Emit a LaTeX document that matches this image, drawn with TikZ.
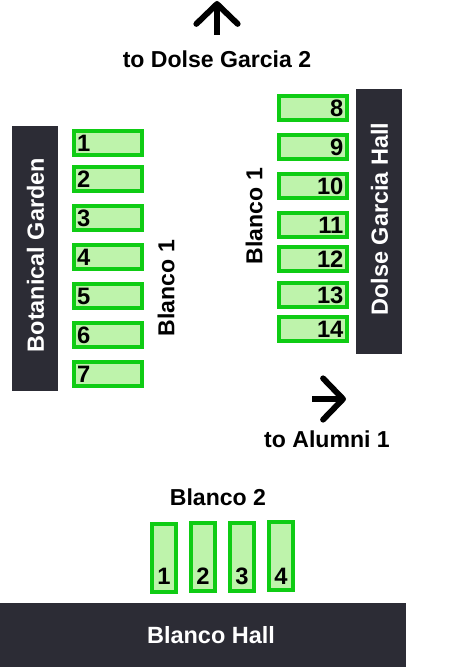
\documentclass[tikz,border=0pt]{standalone}
\usepackage{fontspec}
\setmainfont{Liberation Sans}
\usetikzlibrary{arrows.meta}
\definecolor{hallgray}{HTML}{2C2C35}
\definecolor{stallgreen}{HTML}{0FCC14}
\definecolor{stallfill}{HTML}{BEF3AB}
\tikzset{
    txt/.style={font=\fontsize{17.3}{20}\selectfont\bfseries, inner sep=0pt, text height=12.5pt, text depth=0pt},
    hall/.style={fill=hallgray, inner sep=0pt},
    halltxt/.style={txt, text=white, font=\fontsize{17.6}{20}\selectfont\bfseries},
    stall/.style={draw=stallgreen, fill=stallfill, line width=3pt, inner sep=0pt, outer sep=0pt, minimum width=51pt, minimum height=18pt},
    stallup/.style={stall, minimum width=18pt, minimum height=51pt},
    num/.style={txt, font=\fontsize{17.8}{20}\selectfont\bfseries},
    wayarrow/.style={line width=4.4pt, -{Straight Barb[length=15pt, width=31pt, round]}}
}
\begin{document}
\begin{tikzpicture}[x=0.75pt, y=-0.75pt]
        \useasboundingbox (0,0) rectangle (454,667);
        \node[hall, minimum width=34.5pt, minimum height=198.75pt] (botanical) at (35,258.5) {};
        \node[hall, minimum width=34.5pt, minimum height=198.75pt] (dolse) at (379,221.5) {};
        \node[hall, minimum width=304.5pt, minimum height=48pt] (blancohall) at (203,635) {};
        \node[halltxt, rotate=90] (botanicaltxt) at (35.5,255) {Botanical Garden};
        \node[halltxt, rotate=90] (dolsetxt) at (379.5,219) {Dolse Garcia Hall};
        \node[halltxt] (blancohalltxt) at (211,635) {Blanco Hall};

        \node[stall, label={[num, anchor=west, xshift=2.2pt]west:1}] (s1) at (108,143) {};
        \node[stall, label={[num, anchor=west, xshift=2.2pt]west:2}] (s2) at (108,179) {};
        \node[stall, label={[num, anchor=west, xshift=2.2pt]west:3}] (s3) at (108,218) {};
        \node[stall, label={[num, anchor=west, xshift=2.2pt]west:4}] (s4) at (108,257) {};
        \node[stall, label={[num, anchor=west, xshift=2.2pt]west:5}] (s5) at (108,296) {};
        \node[stall, label={[num, anchor=west, xshift=2.2pt]west:6}] (s6) at (108,335) {};
        \node[stall, label={[num, anchor=west, xshift=2.2pt]west:7}] (s7) at (108,374) {};

        \node[stall, label={[num, anchor=east, xshift=-2.5pt]east:8}] (s8) at (313,108) {};
        \node[stall, label={[num, anchor=east, xshift=-2.5pt]east:9}] (s9) at (313,147) {};
        \node[stall, label={[num, anchor=east, xshift=-2.5pt]east:10}] (s10) at (313,186) {};
        \node[stall, label={[num, anchor=east, xshift=-2.5pt]east:11}] (s11) at (313,225) {};
        \node[stall, label={[num, anchor=east, xshift=-2.5pt]east:12}] (s12) at (313,259) {};
        \node[stall, label={[num, anchor=east, xshift=-2.5pt]east:13}] (s13) at (313,295) {};
        \node[stall, label={[num, anchor=east, xshift=-2.5pt]east:14}] (s14) at (313,329) {};

        \node[stallup, label={[num, anchor=south, yshift=4.9pt]south:1}] (b1) at (164,557.5) {};
        \node[stallup, label={[num, anchor=south, yshift=4.5pt]south:2}] (b2) at (203,557) {};
        \node[stallup, label={[num, anchor=south, yshift=4.1pt]south:3}] (b3) at (242,556.5) {};
        \node[stallup, label={[num, anchor=south, yshift=3.75pt]south:4}] (b4) at (281,556) {};

        \node[txt, rotate=90] (blancoa) at (166,288) {Blanco 1};
        \node[txt, rotate=90] (blancob) at (254,216) {Blanco 1};
        \node[txt] (blancoc) at (218,497) {Blanco 2};
        \node[txt] (togarcia) at (217,59) {to Dolse Garcia 2};
        \node[txt] (toalumni) at (327,439) {to Alumni 1};

        \coordinate (upstart) at (217,35);
        \coordinate (upend) at (217,1);
        \coordinate (rightstart) at (312,399);
        \coordinate (rightend) at (346,399);
        \draw[wayarrow] (upstart) -- (upend);
        \draw[wayarrow] (rightstart) -- (rightend);
    \end{tikzpicture}
\end{document}
